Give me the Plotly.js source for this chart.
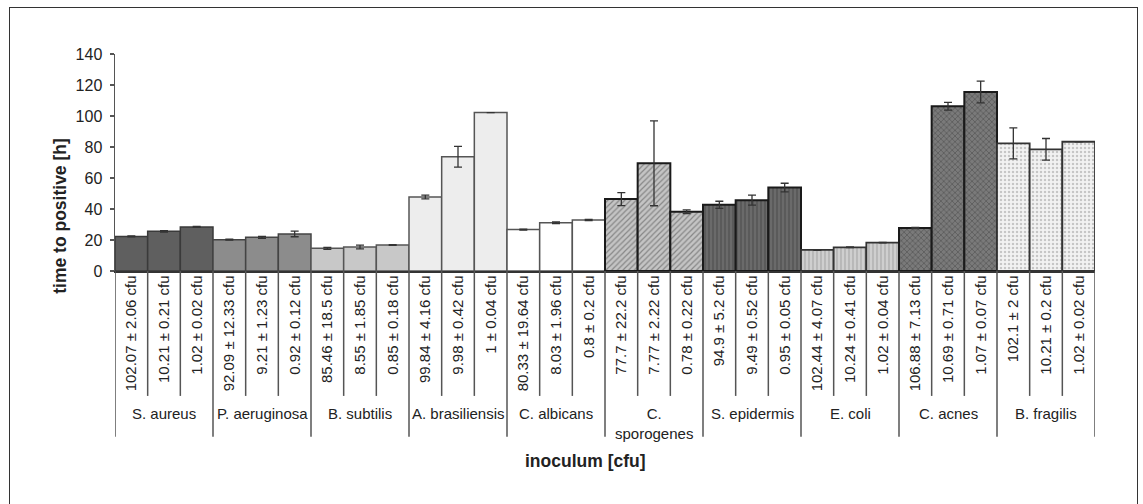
<!DOCTYPE html>
<html>
<head>
<meta charset="utf-8">
<script src="https://cdn.plot.ly/plotly-3.0.1.min.js"></script>
<style>
  html, body { margin: 0; padding: 0; background: #fff; }
  #wrap { position: relative; width: 1143px; height: 504px; overflow: hidden; }
  #chart { position: absolute; left: 0; top: 0; width: 1143px; height: 504px; }
  #frame { position: absolute; left: 9px; top: 7px; width: 1127px; height: 520px; border: 1.5px solid #333; pointer-events: none; }
</style>
</head>
<body>
<div id="wrap">
  <div id="chart"></div>
  <div id="frame"></div>
</div>
<script>
// ---- data ----
const groups = ["S. aureus", "P. aeruginosa", "B. subtilis", "A. brasiliensis", "C. albicans",
                "C.<br>sporogenes", "S. epidermis", "E. coli", "C. acnes", "B. fragilis"];

const inoculumLabels = [
  "102.07 ± 2.06 cfu", "10.21 ± 0.21 cfu", "1.02 ± 0.02 cfu",
  "92.09 ± 12.33 cfu", "9.21 ± 1.23 cfu", "0.92 ± 0.12 cfu",
  "85.46 ± 18.5 cfu", "8.55 ± 1.85 cfu", "0.85 ± 0.18 cfu",
  "99.84 ± 4.16 cfu", "9.98 ± 0.42 cfu", "1 ± 0.04 cfu",
  "80.33 ± 19.64 cfu", "8.03 ± 1.96 cfu", "0.8 ± 0.2 cfu",
  "77.7 ± 22.2 cfu", "7.77 ± 2.22 cfu", "0.78 ± 0.22 cfu",
  "94.9 ± 5.2 cfu", "9.49 ± 0.52 cfu", "0.95 ± 0.05 cfu",
  "102.44 ± 4.07 cfu", "10.24 ± 0.41 cfu", "1.02 ± 0.04 cfu",
  "106.88 ± 7.13 cfu", "10.69 ± 0.71 cfu", "1.07 ± 0.07 cfu",
  "102.1 ± 2 cfu", "10.21 ± 0.2 cfu", "1.02 ± 0.02 cfu"
];

const timeToPositive = [
  22.3, 25.6, 28.4,
  20.2, 21.7, 23.9,
  14.6, 15.5, 16.8,
  47.7, 73.7, 102.2,
  26.7, 31.1, 32.9,
  46.4, 69.5, 38.2,
  42.7, 45.7, 53.8,
  13.6, 15.3, 18.3,
  27.7, 106.3, 115.5,
  82.3, 78.5, 83.4
];

const timeSD = [
  0.3, 0.5, 0.3,
  0.3, 0.7, 1.8,
  0.7, 1.2, 0.2,
  1.2, 6.7, 0,
  0.3, 0.5, 0.4,
  4.2, 27.4, 1.2,
  2.3, 3.2, 2.8,
  0.2, 0.2, 0.2,
  0.4, 2.5, 7.0,
  10.0, 7.0, 0
];

// ---- per-group styles ----
const groupStyle = [
  {shape: "",  bg: "#5f5f5f", fg: "#5f5f5f", line: "#3a3a3a", lw: 1.5},
  {shape: "",  bg: "#8c8c8c", fg: "#8c8c8c", line: "#444",    lw: 1.5},
  {shape: "",  bg: "#c8c8c8", fg: "#c8c8c8", line: "#555",    lw: 1.5},
  {shape: "",  bg: "#ededed", fg: "#ededed", line: "#555",    lw: 1.5},
  {shape: "",  bg: "#ffffff", fg: "#ffffff", line: "#555",    lw: 1.5},
  {shape: "/", bg: "#c4c4c4", fg: "#4a4a4a", line: "#1a1a1a", lw: 2},
  {shape: "|", bg: "#6a6a6a", fg: "#333333", line: "#1a1a1a", lw: 2},
  {shape: "|", bg: "#cfcfcf", fg: "#858585", line: "#333",    lw: 1.8},
  {shape: "x", bg: "#7a7a7a", fg: "#2a2a2a", line: "#1a1a1a", lw: 2},
  {shape: ".", bg: "#f2f2f2", fg: "#999999", line: "#333",    lw: 1.8}
];

const n = timeToPositive.length;
const xIdx = inoculumLabels.map((_, i) => i);

const traces = groups.map((gname, g) => {
  const idx = [3 * g, 3 * g + 1, 3 * g + 2];
  const st = groupStyle[g];
  const marker = {color: st.bg, line: {color: st.line, width: st.lw}};
  if (st.shape) {
    marker.pattern = {shape: st.shape, fgcolor: st.fg, fillmode: "overlay", size: 4, solidity: 0.3};
  }
  return {
    type: "bar",
    name: gname,
    x: idx.map(i => xIdx[i]),
    y: idx.map(i => timeToPositive[i]),
    width: 1,
    marker: marker,
    error_y: {type: "data", array: idx.map(i => timeSD[i]), visible: true, color: "#333", thickness: 1.3, width: 4},
    hoverinfo: "y"
  };
});

// ---- geometry helpers (pixel -> paper) ----
const L = 115, R = 1095, T = 53.5, B = 271.5;
const W = R - L, H = B - T;
const py = yp => (B - yp) / H;
const pxX = xp => (xp - L) / W;

const shapes = [];
for (let i = 0; i < n - 1; i++) {
  if (i % 3 !== 2) {
    shapes.push({type: "line", xref: "x", yref: "paper", x0: i + 0.5, x1: i + 0.5,
                 y0: 0, y1: py(397), line: {color: "#555", width: 1.5}});
  }
}
for (let g = 0; g <= groups.length; g++) {
  shapes.push({type: "line", xref: "x", yref: "paper", x0: 3 * g - 0.5, x1: 3 * g - 0.5,
               y0: 0, y1: py(438), line: {color: "#555", width: 1.5}});
}

const FONT = "Liberation Sans, Arial, sans-serif";
const annotations = groups.map((gname, g) => ({
  xref: "x", yref: "paper", x: 3 * g + 1, y: py(404), yanchor: "top", xanchor: "center",
  text: gname, showarrow: false, font: {size: 15, color: "#222", family: FONT}
}));
annotations.push({
  xref: "paper", yref: "paper", x: pxX(585), y: py(462), xanchor: "center", yanchor: "middle",
  text: "<b>inoculum [cfu]</b>", showarrow: false,
  font: {size: 17.5, color: "#222", family: FONT}
});
annotations.push({
  xref: "paper", yref: "paper", x: pxX(60), y: py(216), xanchor: "center", yanchor: "middle",
  textangle: -90, text: "<b>time to positive [h]</b>", showarrow: false,
  font: {size: 17.5, color: "#222", family: FONT}
});

const layout = {
  width: 1143, height: 504,
  margin: {l: L, r: 1143 - R, t: T, b: 504 - B, pad: 0},
  paper_bgcolor: "#fff", plot_bgcolor: "#fff",
  showlegend: false,
  barmode: "overlay",
  bargap: 0,
  font: {family: FONT, color: "#222"},
  xaxis: {
    range: [-0.5, n - 0.5],
    tickmode: "array", tickvals: xIdx, ticktext: inoculumLabels,
    tickangle: -90, tickfont: {size: 15, color: "#222"},
    ticks: "", showgrid: false, zeroline: false,
    showline: true, linecolor: "#333", linewidth: 1.5,
    ticklabelstandoff: -3
  },
  yaxis: {
    range: [0, 140], tickvals: [0, 20, 40, 60, 80, 100, 120, 140],
    tickfont: {size: 16, color: "#222"},
    ticks: "outside", ticklen: 4, tickcolor: "#555", tickwidth: 1.2,
    showgrid: false, zeroline: false,
    showline: true, linecolor: "#555", linewidth: 1.5,
    ticklabelstandoff: 4
  },
  shapes: shapes,
  annotations: annotations
};

Plotly.newPlot("chart", traces, layout, {displayModeBar: false, staticPlot: true});
</script>
</body>
</html>
